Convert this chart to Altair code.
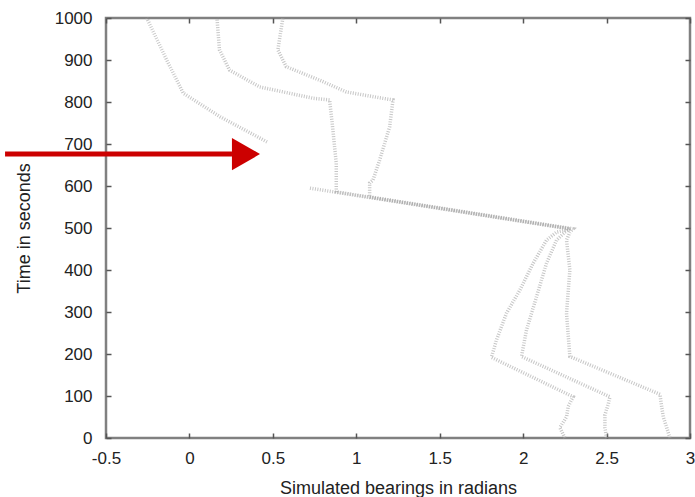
import altair as alt
import pandas as pd

# Bearing tracks (x = bearing in radians, t = time in seconds)
track1_x = [2.25, 2.22, 2.26, 2.27, 2.30, 1.81, 1.84, 1.90, 1.98, 2.06, 2.14, 2.20, 2.28, 0.72]
track1_t = [0, 25, 50, 75, 98, 192, 233, 297, 352, 416, 471, 490, 498, 595]

track2_x = [2.50, 2.49, 2.49, 2.51, 2.52, 1.99, 2.02, 2.08, 2.14, 2.20, 2.25, 2.28,
            0.88, 0.88, 0.88, 0.86, 0.84, 0.74, 0.42, 0.24, 0.18, 0.165]
track2_t = [0, 25, 55, 80, 98, 194, 257, 336, 416, 471, 490, 498,
            586, 598, 654, 733, 805, 809, 836, 876, 924, 1000]

track3_x = [2.88, 2.86, 2.84, 2.83, 2.82, 2.28, 2.26, 2.28, 2.26, 2.28, 2.30,
            1.08, 1.08, 1.10, 1.14, 1.20, 1.22, 1.14, 0.94, 0.78, 0.58, 0.53, 0.56]
track3_t = [0, 25, 50, 75, 104, 194, 297, 400, 471, 490, 498,
            574, 607, 614, 662, 741, 805, 810, 824, 852, 884, 924, 1000]

track4_x = [0.465, 0.183, -0.037, -0.076, -0.136, -0.256]
track4_t = [705, 765, 821, 852, 900, 1000]

# Red annotation arrow (data coordinates)
arrow_tail_x = [-1.105]
arrow_base_x = [0.255]
arrow_tip_center_x = [0.339]
arrow_t = [676]

x_ticks = [-0.5, 0, 0.5, 1, 1.5, 2, 2.5, 3]
y_ticks = [0, 100, 200, 300, 400, 500, 600, 700, 800, 900, 1000]

rows = []
for name, xs, ts in [("1", track1_x, track1_t), ("2", track2_x, track2_t),
                     ("3", track3_x, track3_t), ("4", track4_x, track4_t)]:
    for i, (xv, tv) in enumerate(zip(xs, ts)):
        rows.append({"track": name, "seq": i, "x": xv, "t": tv})
df = pd.DataFrame(rows)

arrow_df = pd.DataFrame({"x": arrow_tail_x, "x2": arrow_base_x,
                         "xc": arrow_tip_center_x, "t": arrow_t})

FONT = "Liberation Sans"
x_scale = alt.Scale(domain=[-0.5, 3], nice=False, zero=False)
y_scale = alt.Scale(domain=[0, 1000], nice=False, zero=False)

common_axis = dict(offset=-5, tickSize=5, domain=False, grid=False,
                   tickColor="#555555", tickWidth=1.5)

tracks = alt.Chart(df).mark_line(
    strokeDash=[1, 1.5], strokeWidth=3.5, color="#a0a0a0", opacity=0.6
).encode(
    x=alt.X("x:Q", scale=x_scale, axis=alt.Axis(
        orient="bottom", values=x_ticks, labelExpr="datum.value + ''",
        labelFlush=False, labelFont=FONT, labelFontSize=17, labelColor="#222222",
        labelPadding=12, title="Simulated bearings in radians",
        titleFont=FONT, titleFontSize=18, titleFontWeight="normal",
        titleColor="#222222", titleBaseline="alphabetic", titleY=60, titleX=292,
        **common_axis)),
    y=alt.Y("t:Q", scale=y_scale, axis=alt.Axis(
        orient="left", values=y_ticks, labelExpr="datum.value + ''",
        labelFlush=False, labelFont=FONT, labelFontSize=17, labelColor="#222222",
        labelPadding=14, title="Time in seconds",
        titleFont=FONT, titleFontSize=18, titleFontWeight="normal",
        titleColor="#222222", titleBaseline="alphabetic", titleX=-82, titleY=210,
        **common_axis)),
    detail="track:N",
    order="seq:Q",
)

shaft = alt.Chart(arrow_df).mark_rule(color="#cc0000", strokeWidth=5).encode(
    x=alt.X("x:Q", scale=x_scale, axis=None),
    x2="x2:Q",
    y=alt.Y("t:Q", scale=y_scale, axis=None),
)

head = alt.Chart(arrow_df).mark_point(
    shape="triangle-right", filled=True, size=1050, color="#cc0000", opacity=1
).encode(
    x=alt.X("xc:Q", scale=x_scale, axis=alt.Axis(
        orient="top", values=x_ticks, labels=False, title=None, **common_axis)),
    y=alt.Y("t:Q", scale=y_scale, axis=alt.Axis(
        orient="right", values=y_ticks, labels=False, title=None, **common_axis)),
)

chart = alt.layer(tracks, shaft, head).resolve_axis(
    x="independent", y="independent"
).properties(
    width=584, height=420,
    autosize=alt.AutoSizeParams(type="none"),
    padding={"left": 106, "top": 18, "right": 5, "bottom": 59},
    background="white",
).configure_view(stroke="#808080", strokeWidth=2.5)

chart.save("out.html", embed_options={"renderer": "svg", "actions": False})
